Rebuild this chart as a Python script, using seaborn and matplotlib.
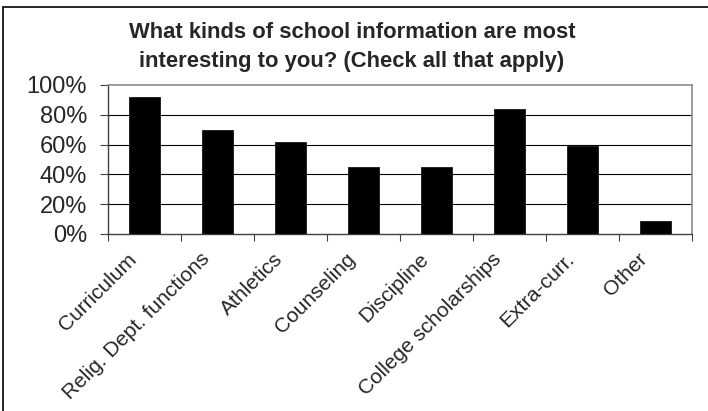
import matplotlib
matplotlib.use("Agg")
import matplotlib.pyplot as plt
import matplotlib.transforms as mtransforms
from matplotlib.patches import Rectangle
from matplotlib.ticker import PercentFormatter, FixedLocator
import seaborn as sns
import pandas as pd

# survey answers, share of respondents (%)
categories = ["Curriculum", "Relig. Dept. functions", "Athletics", "Counseling",
              "Discipline", "College scholarships", "Extra-curr.", "Other"]
shares = [92, 70, 61.5, 45, 45, 84, 59, 9]
title_lines = ["What kinds of school information are most",
               "interesting to you? (Check all that apply)"]

sns.set_style("white")
plt.rcParams["font.family"] = ["Liberation Sans", "DejaVu Sans"]

df = pd.DataFrame({"category": categories, "share": shares})

fig = plt.figure(figsize=(7.08, 4.11), dpi=100)
ax = fig.add_axes([0.1525, 0.4307, 0.8249, 0.3625])

sns.barplot(data=df, x="category", y="share", color="black", width=0.43,
            saturation=1, edgecolor="black", linewidth=0.5, ax=ax, zorder=3)

ax.set_ylim(0, 100)
ax.set_xlim(-0.5, len(categories) - 0.5)
ax.set_yticks([0, 20, 40, 60, 80, 100])
ax.yaxis.set_major_formatter(PercentFormatter(decimals=0))
ax.set_xlabel("")
ax.set_ylabel("")

# gridlines at 20..80, top spine acts as 100%
for v in [20, 40, 60, 80]:
    ax.axhline(v, color="black", lw=0.8, zorder=1)

for side in ["top", "right"]:
    ax.spines[side].set_color("#8c8c8c")
    ax.spines[side].set_linewidth(1.2)
for side in ["left", "bottom"]:
    ax.spines[side].set_color("#404040")
    ax.spines[side].set_linewidth(1.0)

ax.tick_params(axis="y", which="major", direction="out", length=6, width=0.8,
               color="#404040", pad=9, labelsize=17, left=True)
# category separators as minor ticks below the axis
ax.xaxis.set_minor_locator(FixedLocator([i - 0.5 for i in range(len(categories) + 1)]))
ax.tick_params(axis="x", which="minor", direction="out", length=5, width=0.8,
               color="#404040", bottom=True)
ax.tick_params(axis="x", which="major", length=0, pad=16, labelsize=15)
shift = mtransforms.ScaledTranslation(-11 / 100, 0, fig.dpi_scale_trans)
for lbl in ax.get_xticklabels():
    lbl.set_rotation(45)
    lbl.set_ha("right")
    lbl.set_va("center")
    lbl.set_rotation_mode("anchor")
    lbl.set_transform(lbl.get_transform() + shift)

fig.text(0.497, 1 - 32 / 411, title_lines[0], ha="center", va="center",
         fontsize=15.8, fontweight="bold")
fig.text(0.497, 1 - 62 / 411, title_lines[1], ha="center", va="center",
         fontsize=15.8, fontweight="bold")

# outer chart frame (cut by the image edge on right and bottom)
fig.patches.append(Rectangle((3 / 708, -0.1), 1.2, 1 - 7 / 411 + 0.1,
                             transform=fig.transFigure, fill=False,
                             edgecolor="black", lw=1.2))

fig.savefig("out.png", dpi=100)
